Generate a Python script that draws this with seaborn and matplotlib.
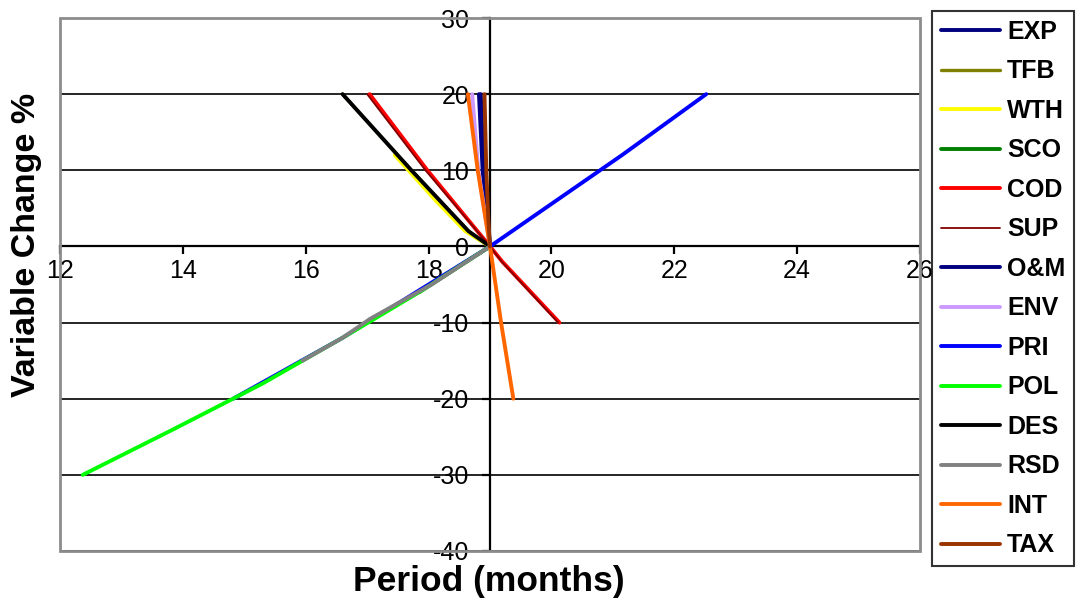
import matplotlib
matplotlib.use("Agg")
import matplotlib.pyplot as plt
from matplotlib.patches import Rectangle
import numpy as np
import pandas as pd
import seaborn as sns

# Sensitivity series: payback period (months) against change in each variable (%)
variables = ["EXP", "TFB", "WTH", "SCO", "COD", "SUP", "O&M",
             "ENV", "PRI", "POL", "DES", "RSD", "INT", "TAX"]

exp_period = [18.82, 18.88, 19.0]
exp_change = [20, 10, 0]

tfb_period = [16.6, 17.72, 18.65, 19.0]
tfb_change = [20, 10, 2, 0]

wth_period = [17.45, 18.12, 18.6, 19.0]
wth_change = [12, 6, 2, 0]

sco_period = [17.85, 19.0]
sco_change = [-6, 0]

cod_period = [17.04, 17.98, 19.0, 19.2, 20.13]
cod_change = [20, 10, 0, -2, -10]

sup_period = [17.0, 17.95, 19.0, 19.19, 20.11]
sup_change = [20, 10, 0, -2, -10]

om_period = [18.85, 18.9, 19.0]
om_change = [20, 10, 0]

env_period = [18.71, 18.81, 19.0]
env_change = [20, 10, 0]

pri_period = [14.82, 16.6, 19.0, 21.15, 22.52]
pri_change = [-20, -12, 0, 12, 20]

pol_period = [12.37, 13.85, 15.3, 16.6, 17.85, 19.0]
pol_change = [-30, -24, -18, -12, -6, 0]

des_period = [16.6, 17.72, 18.65, 19.0]
des_change = [20, 10, 2, 0]

rsd_period = [15.95, 16.6, 17.05, 18.05, 19.0]
rsd_change = [-15, -12, -9.5, -5, 0]

int_period = [18.64, 18.8, 19.0, 19.18, 19.38]
int_change = [20, 10, 0, -10, -20]

tax_period = [18.91, 18.94, 18.97, 19.0]
tax_change = [20, 10, 4, 0]

periods = [exp_period, tfb_period, wth_period, sco_period, cod_period, sup_period,
           om_period, env_period, pri_period, pol_period, des_period, rsd_period,
           int_period, tax_period]
changes = [exp_change, tfb_change, wth_change, sco_change, cod_change, sup_change,
           om_change, env_change, pri_change, pol_change, des_change, rsd_change,
           int_change, tax_change]

colors = {"EXP": "#000080", "TFB": "#808000", "WTH": "#FFFF00", "SCO": "#008000",
          "COD": "#FF0000", "SUP": "#800000", "O&M": "#000080", "ENV": "#CC99FF",
          "PRI": "#0000FF", "POL": "#00FF00", "DES": "#000000", "RSD": "#808080",
          "INT": "#FF6600", "TAX": "#993300"}
widths = {v: 2.8 for v in variables}
widths["SUP"] = 1.3
widths["TFB"] = 2.4

x_ticks = list(range(12, 27, 2))
y_ticks = list(range(-40, 31, 10))

rows = []
for name, xs, ys in zip(variables, periods, changes):
    for i, (xv, yv) in enumerate(zip(xs, ys)):
        rows.append({"variable": name, "order": i, "period": xv, "change": yv})
df = pd.DataFrame(rows)

sns.set_theme(style="white")
plt.rcParams["font.family"] = ["Liberation Sans", "DejaVu Sans"]
plt.rcParams["text.color"] = "black"
plt.rcParams["xtick.color"] = "black"
plt.rcParams["ytick.color"] = "black"

W, H = 1081, 600
fig = plt.figure(figsize=(W / 100, H / 100), dpi=100)
left, right, top, bottom = 60, 920, 18, 551
ax = fig.add_axes([left / W, 1 - bottom / H, (right - left) / W, (bottom - top) / H])

sns.lineplot(data=df, x="period", y="change", hue="variable", hue_order=variables,
             palette=colors, size="variable", sizes=widths, size_order=variables,
             sort=False, estimator=None, ax=ax, zorder=3)

ax.set_xlim(12, 26)
ax.set_ylim(-40, 30)
ax.set_xlabel("")
ax.set_ylabel("")

# Axes cross at (19, 0)
ax.spines["left"].set_position(("data", 19))
ax.spines["bottom"].set_position(("data", 0))
for s in ("left", "bottom"):
    ax.spines[s].set_color("black")
    ax.spines[s].set_linewidth(1.6)
    ax.spines[s].set_zorder(2)
ax.spines["top"].set_visible(False)
ax.spines["right"].set_visible(False)

# Grey plot-area frame
ax.add_patch(Rectangle((0, 0), 1, 1, transform=ax.transAxes, fill=False,
                       edgecolor="#8c8c8c", linewidth=2.0, clip_on=False, zorder=4))

ax.set_xticks(x_ticks)
ax.set_xticklabels([str(t) for t in x_ticks])
ax.set_yticks(y_ticks)
ax.set_yticklabels([str(t) for t in y_ticks])
ax.tick_params(axis="x", direction="out", length=6, width=1.6, color="black",
               pad=3, labelsize=18, labelcolor="black", bottom=True)
ax.tick_params(axis="y", direction="out", length=6, width=1.6, color="black",
               pad=9, labelsize=18, labelcolor="black", left=True)

ax.yaxis.grid(True, color="black", linewidth=1.2)
ax.xaxis.grid(False)
ax.set_axisbelow(True)

fig.text(489 / W, 1 - 582 / H, "Period (months)", ha="center", va="center",
         fontsize=25.5, fontweight="bold", color="black")
fig.text(27 / W, 1 - 245 / H, "Variable Change %", ha="center", va="center",
         rotation=90, fontsize=24.5, fontweight="bold", color="black")

sns.move_legend(ax, loc="upper left", bbox_to_anchor=(932 / W, 1 - 11 / H),
                bbox_transform=fig.transFigure, title=None, frameon=True,
                fancybox=False, prop={"weight": "bold", "size": 18},
                handlelength=2.35, handletextpad=0.3, labelspacing=0.62,
                borderpad=0.35, borderaxespad=0)
leg = ax.get_legend()
leg.get_frame().set_edgecolor("black")
leg.get_frame().set_linewidth(1.5)
for t in leg.get_texts():
    t.set_color("black")

fig.savefig("out.png", dpi=100)
